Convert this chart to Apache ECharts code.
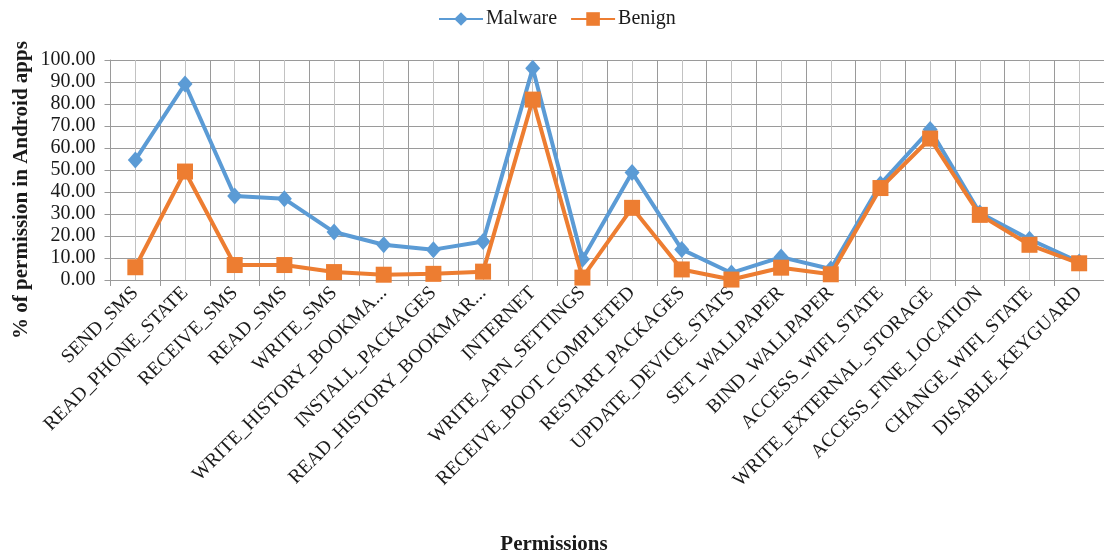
<!DOCTYPE html>
<html>
<head>
<meta charset="utf-8">
<title>Permissions in Android apps</title>
<script src="https://cdn.jsdelivr.net/npm/echarts@6/dist/echarts.min.js"></script>
<style>
  html, body { margin: 0; padding: 0; background: #fff; }
  #chart { width: 1104px; height: 559px; }
</style>
</head>
<body>
<div id="chart"></div>
<script>
// Permission names as printed under the axis (two are cut short)
const permissions = [
  'SEND_SMS', 'READ_PHONE_STATE', 'RECEIVE_SMS', 'READ_SMS', 'WRITE_SMS',
  'WRITE_HISTORY_BOOKMA...', 'INSTALL_PACKAGES', 'READ_HISTORY_BOOKMAR...',
  'INTERNET', 'WRITE_APN_SETTINGS', 'RECEIVE_BOOT_COMPLETED', 'RESTART_PACKAGES',
  'UPDATE_DEVICE_STATS', 'SET_WALLPAPER', 'BIND_WALLPAPER', 'ACCESS_WIFI_STATE',
  'WRITE_EXTERNAL_STORAGE', 'ACCESS_FINE_LOCATION', 'CHANGE_WIFI_STATE', 'DISABLE_KEYGUARD'
];

// % of apps requesting each permission
const malware = [
  54.6, 89.1, 38.2, 36.9, 21.8, 16.0, 13.8, 17.5,
  96.2, 9.4, 48.9, 13.9, 3.2, 10.4, 5.0, 43.6,
  68.4, 30.4, 18.5, 8.2
];
const benign = [
  5.8, 49.3, 6.8, 6.8, 3.6, 2.4, 2.8, 3.8,
  82.0, 1.1, 32.8, 4.8, 0.2, 5.6, 2.6, 41.8,
  64.3, 29.6, 16.0, 7.6
];

const seriesNames = ['Malware', 'Benign'];
const seriesColors = ['#5B9BD5', '#ED7D31'];

const serif = '"Liberation Serif", "DejaVu Serif", serif';
const ink = '#1a1a1a';
const majorGrid = '#9a9a9a';
const minorGrid = '#c2c2c2';

const chart = echarts.init(document.getElementById('chart'), null, { renderer: 'canvas' });

chart.setOption({
  animation: false,
  backgroundColor: '#ffffff',
  textStyle: { fontFamily: serif, color: ink },
  legend: {
    left: 438,
    top: 9,
    padding: 0,
    itemWidth: 44,
    itemHeight: 17,
    itemGap: 13,
    data: seriesNames,
    textStyle: { fontFamily: serif, fontSize: 20, color: ink, padding: [0, 0, 0, -2] }
  },
  grid: {
    // half-pixel left edge and 50px categories keep the centre lines crisp
    left: 110.5,
    top: 60,
    width: 1000,
    height: 220,
    containLabel: false
  },
  xAxis: {
    type: 'category',
    data: permissions,
    boundaryGap: true,
    axisLine: { show: true, lineStyle: { color: majorGrid, width: 1 } },
    axisTick: { show: true, interval: 0, length: 6, lineStyle: { color: majorGrid } },
    splitLine: { show: true, interval: 0, lineStyle: { color: majorGrid, width: 1 } },
    axisLabel: {
      interval: 0,
      rotate: 45,
      margin: 10,
      fontFamily: serif,
      fontSize: 19.5,
      color: ink
    }
  },
  yAxis: {
    type: 'value',
    min: 0,
    max: 100,
    interval: 10,
    axisLine: { show: true, lineStyle: { color: majorGrid, width: 1 } },
    axisTick: { show: true, length: 6, lineStyle: { color: majorGrid } },
    splitLine: { show: true, lineStyle: { color: majorGrid, width: 1 } },
    axisLabel: {
      margin: 15,
      fontFamily: serif,
      fontSize: 20,
      color: ink,
      formatter: v => v.toFixed(2)
    }
  },
  graphic: [
    {
      type: 'text',
      x: 22,
      y: 190,
      rotation: Math.PI / 2,
      style: {
        text: '% of permission in Android apps',
        font: 'bold 21px ' + serif,
        fill: ink,
        align: 'center',
        verticalAlign: 'middle'
      }
    },
    {
      type: 'text',
      x: 554,
      y: 545,
      style: {
        text: 'Permissions',
        font: 'bold 21px ' + serif,
        fill: ink,
        align: 'center',
        verticalAlign: 'middle'
      }
    }
  ],
  series: [
    {
      // light vertical grid line through each category centre
      name: 'centre-lines',
      type: 'line',
      data: [],
      silent: true,
      markLine: {
        silent: true,
        symbol: 'none',
        animation: false,
        label: { show: false },
        emphasis: { disabled: true },
        lineStyle: { color: minorGrid, width: 1, type: 'solid', opacity: 1 },
        data: permissions.map(p => ({ xAxis: p }))
      }
    },
    {
      name: seriesNames[0],
      type: 'line',
      data: malware,
      color: seriesColors[0],
      symbol: 'diamond',
      symbolSize: [15, 17],
      lineStyle: { width: 4, color: seriesColors[0], join: 'round' },
      itemStyle: { color: seriesColors[0] },
      z: 6
    },
    {
      name: seriesNames[1],
      type: 'line',
      data: benign,
      color: seriesColors[1],
      symbol: 'rect',
      symbolSize: 16,
      lineStyle: { width: 4, color: seriesColors[1], join: 'round' },
      itemStyle: { color: seriesColors[1] },
      z: 7
    }
  ]
});
</script>
</body>
</html>
